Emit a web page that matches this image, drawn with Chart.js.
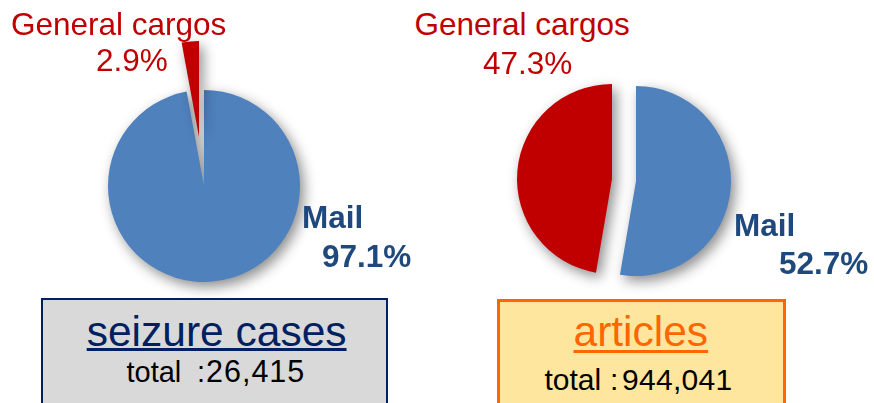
<!DOCTYPE html>
<html>
<head>
<meta charset="utf-8">
<script src="https://cdn.jsdelivr.net/npm/chart.js@4.4.1/dist/chart.umd.min.js"></script>
<style>
  html, body { margin: 0; padding: 0; background: #fff; }
  #stage { position: relative; width: 874px; height: 403px; overflow: hidden; background: #fff;
           font-family: "Liberation Sans", Arial, sans-serif; }
  canvas { position: absolute; }
  .t { position: absolute; white-space: nowrap; line-height: 1; z-index: 5; }
  .red { color: #C00000; font-size: 31.5px; }
  .blue { color: #1F497D; font-size: 31.5px; font-weight: bold; }
  .box { position: absolute; box-sizing: border-box; z-index: 4; }
  #boxL { left: 41px; top: 298px; width: 347px; height: 130px; background: #D9D9D9; border: 2.5px solid #002060; }
  #boxR { left: 497px; top: 299px; width: 289px; height: 130px; background: #FFE69F; border: 3px solid #FF6600; }
  .head { font-size: 42.5px; text-decoration: underline; text-decoration-thickness: 3px; }
  .tot { color: #000; }
</style>
</head>
<body>
<div id="stage">
  <canvas id="cL0" width="260" height="260"></canvas>
  <canvas id="cL1" width="260" height="260"></canvas>
  <canvas id="cR0" width="260" height="260"></canvas>
  <canvas id="cR1" width="260" height="260"></canvas>

  <div class="t red" style="left:11px; top:9.3px;" id="lblL1name"></div>
  <div class="t red" style="left:96px; top:45.3px;" id="lblL1pct"></div>
  <div class="t blue" style="left:302px; top:202.3px;" id="lblL0name"></div>
  <div class="t blue" style="left:322px; top:241.3px;" id="lblL0pct"></div>

  <div class="t red" style="left:414.5px; top:9.3px;" id="lblR1name"></div>
  <div class="t red" style="left:483px; top:48.3px;" id="lblR1pct"></div>
  <div class="t blue" style="left:734px; top:210.3px;" id="lblR0name"></div>
  <div class="t blue" style="left:779px; top:248.3px;" id="lblR0pct"></div>

  <div class="box" id="boxL"></div>
  <div class="box" id="boxR"></div>
  <div class="t head" style="left:86.7px; top:311px; color:#002060; text-underline-offset:2px;" id="titleL"></div>
  <div class="t head" style="left:573.5px; top:311px; color:#FF6600; text-underline-offset:4px;" id="titleR"></div>

  <div class="t tot" style="left:126.5px; top:357.5px; font-size:29px;">total</div>
  <div class="t tot" style="left:197px; top:357.5px; font-size:29px;">:</div>
  <div class="t tot" style="left:206px; top:356.2px; font-size:30.5px; letter-spacing:1px;" id="totL"></div>

  <div class="t tot" style="left:544.5px; top:364.6px; font-size:30px;">total</div>
  <div class="t tot" style="left:610px; top:364.6px; font-size:30px;">:</div>
  <div class="t tot" style="left:622px; top:364.6px; font-size:30px; letter-spacing:0.3px;" id="totR"></div>
</div>
<script>
// ---- data ----
const categories = ['Mail', 'General cargos'];
const seizureCaseShares = [97.1, 2.9];     // % of seizure cases
const articleShares = [52.7, 47.3];        // % of articles
const panelTitles = ['seizure cases', 'articles'];
const panelTotals = [26415, 944041];
const sliceColors = ['#4F81BD', '#C00000'];

// ---- text ----
const fmtPct = v => v.toFixed(1) + '%';
document.getElementById('lblL0name').textContent = categories[0];
document.getElementById('lblL1name').textContent = categories[1];
document.getElementById('lblR0name').textContent = categories[0];
document.getElementById('lblR1name').textContent = categories[1];
document.getElementById('lblL0pct').textContent = fmtPct(seizureCaseShares[0]);
document.getElementById('lblL1pct').textContent = fmtPct(seizureCaseShares[1]);
document.getElementById('lblR0pct').textContent = fmtPct(articleShares[0]);
document.getElementById('lblR1pct').textContent = fmtPct(articleShares[1]);
document.getElementById('titleL').textContent = panelTitles[0];
document.getElementById('titleR').textContent = panelTitles[1];
document.getElementById('totL').textContent = panelTotals[0].toLocaleString('en-US');
document.getElementById('totR').textContent = panelTotals[1].toLocaleString('en-US');

// ---- shadow plugin ----
const shadowPlugin = {
  id: 'shadow',
  beforeDatasetsDraw(chart) {
    const ctx = chart.ctx;
    ctx.save();
    ctx.shadowColor = 'rgba(0,0,0,0.45)';
    ctx.shadowBlur = 13;
    ctx.shadowOffsetX = 4;
    ctx.shadowOffsetY = 5;
  },
  afterDatasetsDraw(chart) { chart.ctx.restore(); }
};

const SIZE = 260;
// each pie: one canvas per slice so that exploded slices are shifted along their bisector
function drawPie(prefix, values, cx, cy, radius, explode) {
  const total = values.reduce((a, b) => a + b, 0);
  let acc = 0;
  values.forEach((v, i) => {
    const mid = (acc + v / 2) / total * 2 * Math.PI;
    acc += v;
    const dx = Math.sin(mid) * explode[i];
    const dy = -Math.cos(mid) * explode[i];
    const cv = document.getElementById(prefix + i);
    cv.style.left = (cx + dx - SIZE / 2) + 'px';
    cv.style.top = (cy + dy - SIZE / 2) + 'px';
    cv.style.zIndex = 1 + i;
    new Chart(cv, {
      type: 'pie',
      data: {
        labels: categories,
        datasets: [{
          data: values,
          backgroundColor: values.map((_, j) => j === i ? sliceColors[j] : 'rgba(0,0,0,0)'),
          borderWidth: 0
        }]
      },
      options: {
        responsive: false,
        animation: false,
        events: [],
        radius: radius,
        layout: { padding: 0 },
        plugins: { legend: { display: false }, tooltip: { enabled: false } }
      },
      plugins: [shadowPlugin]
    });
  });
}

drawPie('cL', seizureCaseShares, 203.5, 186, 96, [0, 49]);
drawPie('cR', articleShares, 624, 180, 95, [12, 12]);
</script>
</body>
</html>
